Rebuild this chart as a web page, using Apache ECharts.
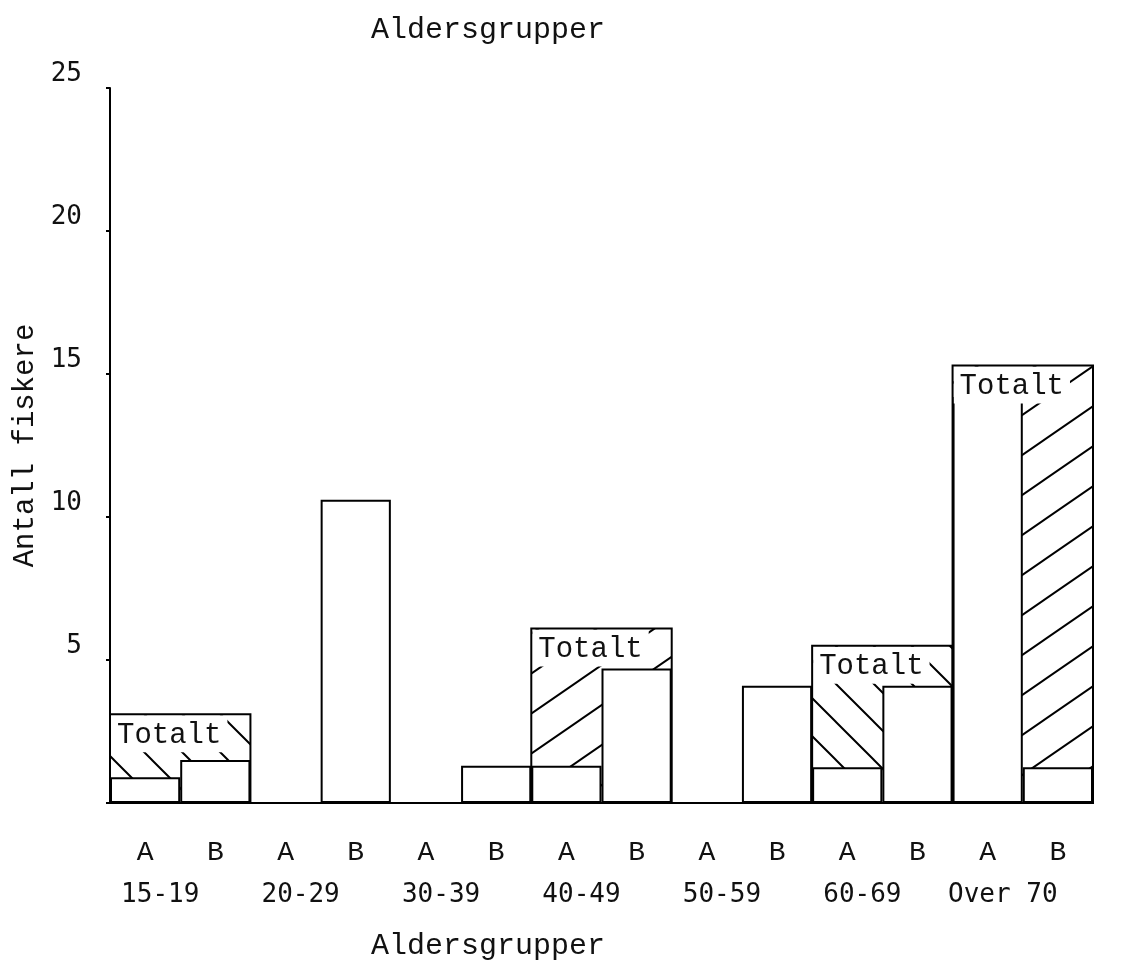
<!DOCTYPE html>
<html>
<head>
<meta charset="utf-8">
<script src="https://cdn.jsdelivr.net/npm/echarts@6/dist/echarts.min.js"></script>
<style>
  html, body { margin: 0; padding: 0; background: #fff; }
  #chart { width: 1124px; height: 964px; }
</style>
</head>
<body>
<div id="chart"></div>
<script>
// A / B columns, two per age group
const slots = ['A', 'B', 'A', 'B', 'A', 'B', 'A', 'B', 'A', 'B', 'A', 'B', 'A', 'B']
const groups = ['15-19', '20-29', '30-39', '40-49', '50-59', '60-69', 'Over 70']
const barValues = [0.9, 1.5, 0, 10.6, 0, 1.3, 1.3, 4.7, 0, 4.1, 1.25, 4.1, 14.2, 1.25]
// "Totalt" boxes: which group, and the total value
const totalGroups = [0, 3, 5, 6]
const totalValues = [3.1, 6.1, 5.5, 15.3]
const yTicks = [0, 5, 10, 15, 20, 25]

// hatch direction per Totalt box (style only)
const hatchDir = ['\\', '/', '\\', '/']

const mono = '"Liberation Mono", "DejaVu Sans Mono", monospace'
const monoSans = '"DejaVu Sans Mono", monospace'

// diagonal line pattern for the hatched parts
function makeHatch(dir, w, h) {
  const c = document.createElement('canvas')
  c.width = w; c.height = h
  const ctx = c.getContext('2d')
  ctx.strokeStyle = '#000'
  ctx.lineWidth = 2
  ctx.beginPath()
  for (let k = -1; k <= 1; k++) {
    const ox = k * w
    if (dir === '/') {
      ctx.moveTo(ox - w * 0.1, h * 1.1)
      ctx.lineTo(ox + w * 1.1, -h * 0.1)
    } else {
      ctx.moveTo(ox - w * 0.1, -h * 0.1)
      ctx.lineTo(ox + w * 1.1, h * 1.1)
    }
  }
  ctx.stroke()
  return { image: c, repeat: 'repeat' }
}
const patterns = {
  '/': makeHatch('/', 58, 40),
  '\\': makeHatch('\\', 38, 38)
}

function boxRect(api) {
  const g = api.value(0)
  const total = api.value(1)
  const w = api.size([1, 0])[0]
  const left = api.coord([g * 2, 0])[0] - w / 2
  const right = api.coord([g * 2 + 1, 0])[0] + w / 2
  const base = api.coord([g * 2, 0])[1]
  const top = api.coord([g * 2, total])[1]
  return { x: left, y: top, width: right - left, height: base - top }
}

const titleStyle = { fontFamily: mono, fontSize: 30, fontWeight: 'normal', color: '#111' }

const chart = echarts.init(document.getElementById('chart'))
chart.setOption({
  animation: false,
  backgroundColor: '#fff',
  title: [
    { text: 'Aldersgrupper', left: 366, top: 10, textStyle: titleStyle },
    { text: 'Aldersgrupper', left: 366, top: 926, textStyle: titleStyle }
  ],
  grid: { left: 110, right: 31, top: 88, bottom: 161 },
  xAxis: [
    {
      type: 'category',
      data: slots,
      boundaryGap: true,
      axisLine: { lineStyle: { color: '#000', width: 2 } },
      axisTick: { show: false },
      axisLabel: { color: '#111', fontFamily: mono, fontSize: 28, margin: 36, interval: 0 }
    },
    {
      type: 'category',
      data: groups,
      position: 'bottom',
      boundaryGap: true,
      axisLine: { show: false },
      axisTick: { show: false },
      axisLabel: { color: '#111', fontFamily: monoSans, fontSize: 26, margin: 79, interval: 0,
        padding: [0, 40, 0, 0] }
    }
  ],
  yAxis: {
    type: 'value',
    min: yTicks[0],
    max: yTicks[yTicks.length - 1],
    interval: 5,
    name: 'Antall fiskere',
    nameLocation: 'middle',
    nameGap: 70,
    nameTextStyle: { fontFamily: mono, fontSize: 29, color: '#111' },
    axisLine: { show: true, lineStyle: { color: '#000', width: 2 } },
    axisTick: { show: true, length: 4, lineStyle: { color: '#000', width: 2 } },
    splitLine: { show: false },
    axisLabel: {
      color: '#111', fontFamily: monoSans, fontSize: 26, margin: 28,
      verticalAlign: 'bottom',
      padding: [0, 0, 1, 0],
      formatter: v => (v === 0 ? '' : String(v))
    }
  },
  series: [
    {
      // hatched fill of the Totalt boxes (bars cover the lower part)
      type: 'custom',
      xAxisIndex: 0,
      z: 1,
      silent: true,
      data: totalGroups.map((g, i) => [g, totalValues[i]]),
      renderItem: (params, api) => ({
        type: 'rect',
        shape: boxRect(api),
        style: { fill: patterns[hatchDir[params.dataIndex]], stroke: null }
      })
    },
    {
      type: 'bar',
      xAxisIndex: 0,
      data: barValues,
      barWidth: '100%',
      barCategoryGap: 0,
      z: 2,
      silent: true,
      itemStyle: { color: '#fff', borderColor: '#000', borderWidth: 2 }
    },
    {
      // outline + "Totalt" label on top
      type: 'custom',
      xAxisIndex: 0,
      z: 3,
      silent: true,
      data: totalGroups.map((g, i) => [g, totalValues[i]]),
      renderItem: (params, api) => {
        const r = boxRect(api)
        return {
          type: 'group',
          children: [
            {
              type: 'text',
              x: r.x + 1, y: r.y + 1,
              style: {
                text: 'Totalt',
                fontFamily: mono, fontSize: 29, fill: '#111',
                backgroundColor: '#fff', padding: [5, 6, 3, 6]
              }
            },
            { type: 'rect', shape: r, style: { fill: null, stroke: '#000', lineWidth: 2 } }
          ]
        }
      }
    }
  ]
})
</script>
</body>
</html>
